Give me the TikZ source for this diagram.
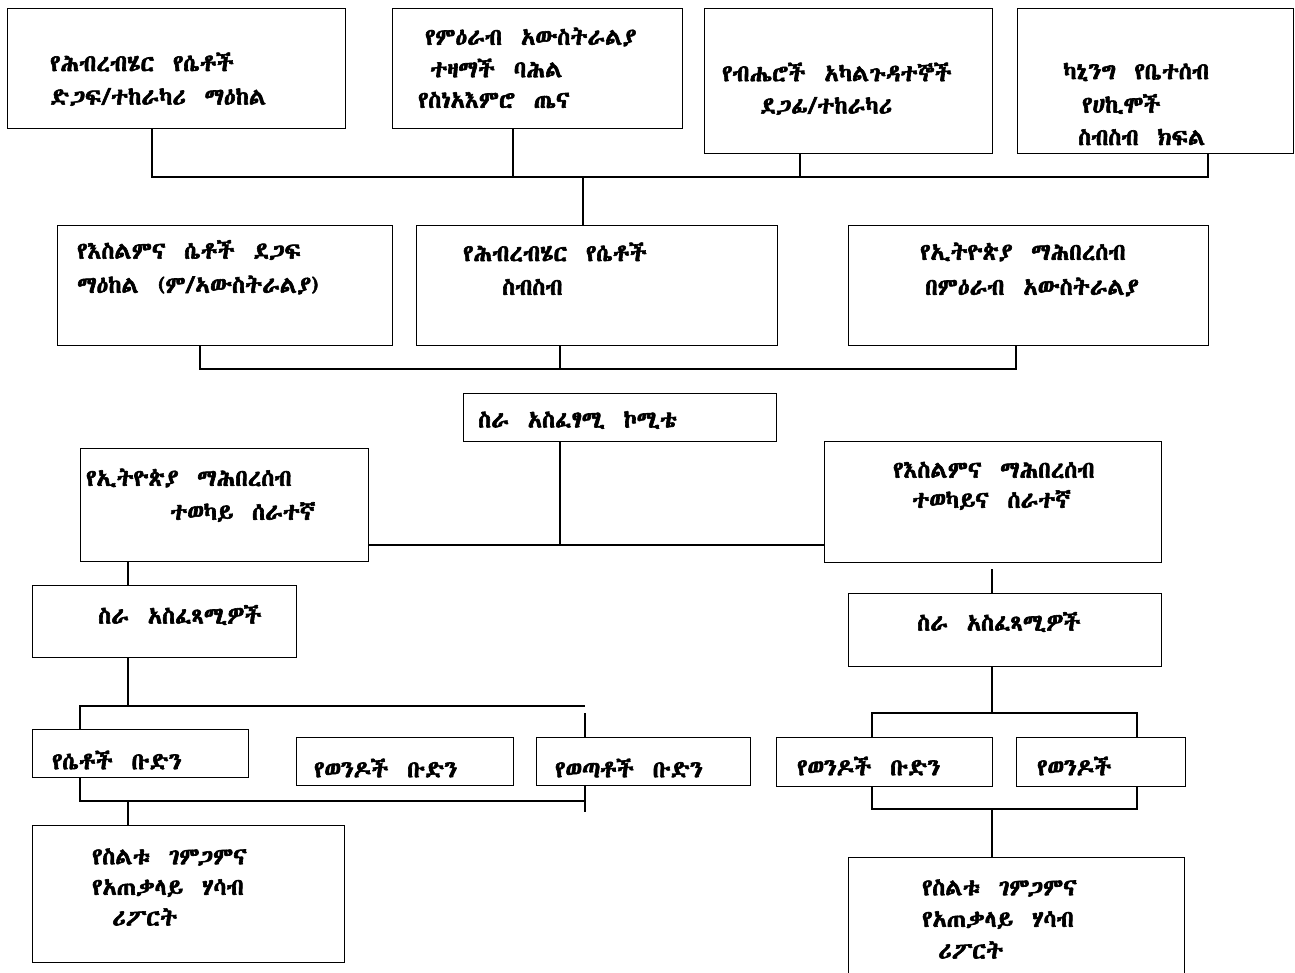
\documentclass[tikz,border=0pt]{standalone}
\usepackage{fontspec}
\IfFontExistsTF{Abyssinica SIL}{\setmainfont{Abyssinica SIL}[AutoFakeBold=2.6]}{%
  \IfFontExistsTF{Noto Sans Ethiopic}{\setmainfont{Noto Sans Ethiopic}}{%
    \IfFontExistsTF{FreeSerif}{\setmainfont{FreeSerif}}{\setmainfont{DejaVu Sans}}}}
\newcommand\gzfont{\fontsize{23.5}{28}\selectfont\bfseries\setlength{\spaceskip}{0.8em}}
\newcommand\mkbox[5]{\node[box,minimum width={#4-#2},minimum height={#5-#3}] (#1) at (#2,#3) {};}
\begin{document}
\begin{tikzpicture}[x=1pt,y=-1pt,
  box/.style={draw=black,line width=1.3pt,anchor=north west,inner sep=0pt,fill=none},
  txt/.style={anchor=west,inner sep=0pt,font=\gzfont},
  conn/.style={draw=black,line width=1.2pt}]
\useasboundingbox (0,0) rectangle (1295,972);
% boxes
\mkbox{b1}{7}{8}{345}{128}
\mkbox{b2}{392}{8}{682}{128}
\mkbox{b3}{704}{8}{992}{153}
\mkbox{b4}{1017}{8}{1293}{153}
\mkbox{m1}{57}{225}{392}{345}
\mkbox{m2}{416}{225}{777}{345}
\mkbox{m3}{848}{225}{1208}{345}
\mkbox{c}{463}{393}{776}{441}
\mkbox{l1}{80}{448}{368}{561}
\mkbox{r1}{824}{441}{1161}{562}
\mkbox{l2}{32}{585}{296}{657}
\mkbox{r2}{848}{593}{1161}{666}
\mkbox{l3}{32}{729}{248}{777}
\mkbox{l4}{296}{737}{513}{785}
\mkbox{l5}{536}{737}{750}{785}
\mkbox{r3}{776}{737}{992}{786}
\mkbox{r4}{1016}{737}{1185}{786}
\mkbox{l6}{32}{825}{344}{962}
\mkbox{r5}{848}{857}{1184}{975}
% texts
\node[txt] (tb1a) at (50,62) {የሕብረብሄር የሴቶች};
\node[txt] (tb1b) at (50,97) {ድጋፍ/ተከራካሪ ማዕከል};
\node[txt] (tb2a) at (425,37) {የምዕራብ አውስትራልያ};
\node[txt] (tb2b) at (430,68) {ተዛማች ባሕል};
\node[txt] (tb2c) at (418,100) {የስነአእምሮ ጤና};
\node[txt] (tb3a) at (722,72) {የብሔሮች አካልጉዳተኞች};
\node[txt] (tb3b) at (760,106) {ደጋፊ/ተከራካሪ};
\node[txt] (tb4a) at (1063,72) {ካኒንግ የቤተሰብ};
\node[txt] (tb4b) at (1082,104) {የሀኪሞች};
\node[txt] (tb4c) at (1078,137) {ስብስብ ክፍል};
\node[txt] (tm1a) at (77,250) {የእስልምና ሴቶች ደጋፍ};
\node[txt] (tm1b) at (77,285) {ማዕከል (ም/ኣውስትራልያ)};
\node[txt] (tm2a) at (463,252) {የሕብረብሄር የሴቶች};
\node[txt] (tm2b) at (502,287) {ስብስብ};
\node[txt] (tm3a) at (920,252) {የኢትዮጵያ ማሕበረሰብ};
\node[txt] (tm3b) at (925,287) {በምዕራብ አውስትራልያ};
\node[txt] (tc) at (478,420) {ስራ አስፈፃሚ ኮሚቴ};
\node[txt] (tl1a) at (86,478) {የኢትዮጵያ ማሕበረሰብ};
\node[txt] (tl1b) at (170,512) {ተወካይ ሰራተኛ};
\node[txt] (tr1a) at (893,470) {የእስልምና ማሕበረሰብ};
\node[txt] (tr1b) at (912,500) {ተወካይና ሰራተኛ};
\node[txt] (tl2) at (98,615) {ስራ አስፈጻሚዎች};
\node[txt] (tr2) at (917,622) {ስራ አስፈጻሚዎች};
\node[txt] (tl3) at (52,760) {የሴቶች ቡድን};
\node[txt] (tl4) at (314,768) {የወንዶች ቡድን};
\node[txt] (tl5) at (555,768) {የወጣቶች ቡድን};
\node[txt] (tr3) at (797,766) {የወንዶች ቡድን};
\node[txt] (tr4) at (1037,766) {የወንዶች};
\node[txt] (tl6a) at (92,857) {የስልቱ ገምጋምና};
\node[txt] (tl6b) at (92,888) {የአጠቃላይ ሃሳብ};
\node[txt] (tl6c) at (112,917) {ሪፖርት};
\node[txt] (tr5a) at (922,888) {የስልቱ ገምጋምና};
\node[txt] (tr5b) at (922,920) {የአጠቃላይ ሃሳብ};
\node[txt] (tr5c) at (938,950) {ሪፖርት};
% junction coordinates
\coordinate (ja) at (152,177);
\coordinate (jb) at (513,177);
\coordinate (jc) at (800,177);
\coordinate (jd) at (1208,177);
\coordinate (je) at (583,177);
\coordinate (ka) at (200,369);
\coordinate (kb) at (560,369);
\coordinate (kc) at (1016,369);
\coordinate (cj) at (560,545);
\coordinate (la) at (128,706);
\coordinate (lb) at (80,706);
\coordinate (lc) at (585,706);
\coordinate (ld) at (585,713);
\coordinate (le) at (80,801);
\coordinate (lf) at (585,801);
\coordinate (lg) at (585,812);
\coordinate (lh) at (128,801);
\coordinate (ra) at (992,569);
\coordinate (rb) at (992,713);
\coordinate (rc) at (872,713);
\coordinate (rd) at (1137,713);
\coordinate (re) at (872,809);
\coordinate (rf) at (1137,809);
\coordinate (rg) at (992,809);
% top tree
\draw[conn] (b1.south -| ja) -- (ja) -- (jd) -- (b4.south -| jd);
\draw[conn] (b2.south -| jb) -- (jb);
\draw[conn] (b3.south -| jc) -- (jc);
\draw[conn] (je) -- (m2.north -| je);
% second row
\draw[conn] (m1.south -| ka) -- (ka) -- (kc) -- (m3.south -| kc);
\draw[conn] (m2.south -| kb) -- (kb);
% committee
\draw[conn] (c.south -| cj) -- (cj);
\draw[conn] (l1.east |- cj) -- (r1.west |- cj);
% left branch
\draw[conn] (l1.south -| la) -- (l2.north -| la);
\draw[conn] (l2.south -| la) -- (la);
\draw[conn] (l3.north -| lb) -- (lb) -- (lc);
\draw[conn] (ld) -- (l5.north -| ld);
\draw[conn] (l3.south -| le) -- (le) -- (lf);
\draw[conn] (l5.south -| lf) -- (lg);
\draw[conn] (lh) -- (l6.north -| lh);
% right branch
\draw[conn] (ra) -- (r2.north -| ra);
\draw[conn] (r2.south -| rb) -- (rb);
\draw[conn] (r3.north -| rc) -- (rc) -- (rd) -- (r4.north -| rd);
\draw[conn] (r3.south -| re) -- (re) -- (rf) -- (r4.south -| rf);
\draw[conn] (rg) -- (r5.north -| rg);
\end{tikzpicture}
\end{document}
